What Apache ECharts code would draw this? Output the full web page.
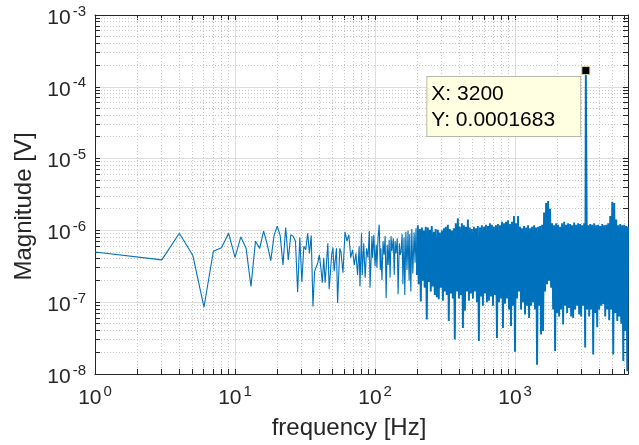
<!DOCTYPE html>
<html>
<head>
<meta charset="utf-8">
<script src="https://cdn.jsdelivr.net/npm/echarts@6/dist/echarts.min.js"></script>
<style>
html,body{margin:0;padding:0;background:#ffffff;}
#chart{width:639px;height:445px;}
</style>
</head>
<body>
<div id="chart"></div>
<script>
// ---------------- data ----------------
// each pair: [frequency in Hz, log10(magnitude in V)]
const lowSpectrum = [
  [1,-6.30],[3,-6.41],[4,-6.04],[5,-6.35],[6,-7.07],[7,-6.29],[8,-6.24],[9,-6.04],[10,-6.375],
  [11,-6.09],[12,-6.25],[13,-6.78],[14,-6.15],[15,-6.25],[16,-6.01],[17,-6.20],[18,-6.42],[19,-6.07],
  [20,-5.94],[21,-6.07],[22,-6.48],[23,-5.96],[24,-6.41],[25,-6.06],[26,-6.08],[27,-6.15],[28,-6.86],
  [29,-6.10],[30,-6.72],[31,-6.22],[32,-6.27],[33,-6.04],[34,-6.32],[35,-6.07],[36,-7.06],[37,-6.57],
  [38,-6.57],[39,-6.45],[40,-6.34],[41,-6.52],[42,-6.73],[43,-6.38],[44,-6.73],[46,-6.18],[47,-6.82],
  [49,-6.34],[50,-6.24],[51,-6.57],[53,-6.25],[54,-7.01],[56,-6.25],[57,-6.29],[59,-6.59],[61,-6.02],
  [63,-6.15],[65,-6.06],[67,-6.38],[69,-6.27],[71,-6.48],[73,-6.32],[75,-6.62],[77,-6.22],[78,-6.78],
  [80,-6.04],[81,-6.62],[83,-6.18],[85,-6.66],[87,-6.25],[89,-6.38],[91,-6.01],[92,-6.80],[95,-6.08],
  [96,-6.38],[98,-6.06]
];
const midSpectrum = [
  [100,-6.50],[102,-6.20],[103,-6.52],[105,-6.11],[107,-5.92],[109,-6.55],[110,-6.25],[112,-6.69],
  [114,-6.15],[116,-6.34],[118,-6.08],[120,-6.94],[122,-6.20],[124,-6.48],[126,-6.13],[128,-6.66],
  [130,-6.08],[132,-6.29],[135,-6.11],[137,-6.62],[139,-6.15],[141,-6.32],[144,-6.11],[146,-6.89],
  [149,-6.18],[151,-6.34],[153,-6.30],[156,-6.05],[158,-6.75],[161,-6.10],[163,-6.90],[166,-6.02],
  [169,-6.55],[172,-6.00],[175,-6.70],[177,-6.05],[180,-6.85],[183,-5.98],[186,-6.60],[190,-6.03],
  [193,-6.45],[196,-5.97],[199,-6.62]
];
const bandSpectrum = [
  [202,-5.93],[205,-6.75],[209,-5.98],[212,-6.99],[216,-5.96],[219,-6.70],[223,-6.00],[226,-6.80],
  [230,-5.95],[234,-7.24],[238,-5.96],[242,-6.72],[246,-5.99],[250,-6.85],[254,-5.94],[258,-6.78],
  [263,-6.02],[267,-6.90],[271,-5.98],[276,-6.93],[281,-5.99],[285,-6.96],[290,-6.03],[295,-6.80],
  [300,-6.00],[305,-6.98],[310,-5.97],[315,-6.85],[320,-5.95],[325,-6.90],[331,-5.92],[336,-7.26],
  [342,-5.98],[348,-6.88],[353,-6.00],[359,-6.95],[365,-5.97],[371,-7.52],[377,-5.90],[384,-6.85],
  [390,-5.83],[397,-6.95],[403,-5.95],[410,-6.90],[417,-5.90],[424,-7.36],[431,-5.93],[438,-7.12],
  [445,-5.95],[453,-6.85],[460,-5.85],[468,-6.98],[475,-5.96],[483,-6.88],[491,-5.98],[500,-6.95],
  [508,-5.95],[516,-6.85],[525,-5.97],[534,-7.00],[542,-5.94],[551,-7.54],[561,-5.96],[570,-6.92],
  [579,-5.93],[589,-7.05],[599,-5.95],[609,-6.88],[619,-5.92],[629,-7.00],[640,-5.94],[650,-6.98],
  [661,-5.90],[672,-6.92],[683,-5.92],[695,-7.05],[706,-5.95],[718,-6.90],[730,-5.93],[742,-7.50],
  [754,-5.91],[767,-7.00],[780,-5.93],[792,-6.95],[806,-5.88],[819,-7.36],[833,-5.90],[847,-7.02],
  [861,-5.88],[875,-6.95],[889,-5.86],[904,-7.10],[919,-5.91],[935,-7.33],[950,-5.88],[966,-7.05],
  [982,-5.80],[998,-7.69],[1015,-5.90],[1032,-6.95],[1049,-5.80],[1066,-6.85],[1084,-5.95],[1102,-7.10],
  [1120,-5.97],[1139,-7.00],[1158,-5.94],[1177,-7.17],[1197,-5.96],[1217,-7.05],[1237,-5.93],[1258,-7.22],
  [1278,-5.97],[1300,-7.05],[1321,-5.95],[1343,-7.00],[1366,-5.93],[1388,-7.10],[1411,-5.96],[1435,-7.87],
  [1459,-5.95],[1483,-7.05],[1507,-5.94],[1532,-7.45],[1558,-5.92],[1584,-7.40],[1610,-5.75],[1637,-6.85],
  [1664,-5.62],[1692,-6.75],[1720,-5.59],[1749,-6.70],[1778,-5.70],[1807,-6.80],[1837,-5.90],[1868,-7.10],
  [1899,-5.93],[1930,-7.68],[1962,-5.90],[1995,-7.15],[2028,-5.92],[2062,-7.20],[2096,-5.95],[2131,-7.10],
  [2166,-5.90],[2202,-7.31],[2239,-5.88],[2276,-7.05],[2314,-5.92],[2352,-7.15],[2391,-5.90],[2431,-7.08],
  [2472,-5.91],[2513,-7.20],[2554,-5.93],[2597,-7.22],[2640,-5.89],[2684,-7.10],[2728,-5.92],[2774,-7.05],
  [2820,-5.90],[2867,-7.17],[2914,-5.91],[2963,-7.20],[3012,-5.93],[3062,-7.05],[3113,-5.90],[3165,-7.63],
  [3271,-7.10],[3325,-5.93],[3380,-7.20],[3437,-5.91],[3494,-7.10],[3552,-5.92],[3611,-7.73],[3671,-5.90],
  [3732,-7.15],[3794,-5.93],[3857,-7.35],[3921,-5.92],[3986,-7.10],[4052,-5.94],[4120,-7.05],[4188,-5.91],
  [4258,-7.03],[4328,-5.93],[4400,-7.20],[4473,-5.92],[4548,-7.10],[4623,-5.90],[4700,-7.25],[4778,-5.80],
  [4858,-7.10],[4938,-5.60],[5020,-7.73],[5104,-5.62],[5189,-7.15],[5275,-5.85],[5363,-7.26],[5452,-5.93],
  [5542,-7.20],[5634,-5.91],[5728,-7.30],[5823,-5.93],[5920,-7.82],[6018,-5.92],[6118,-7.40],[6220,-5.94],
  [6323,-7.96],[6400,-5.95]
];
// the data-tip point
const peakFreq = 3200;
const peakMag = 0.0001683;
// axes
const xMin = 1, xMax = 6400;
const yMin = 1e-8, yMax = 1e-3;
const xDecades = [1, 10, 100, 1000];
const yDecades = [1e-8, 1e-7, 1e-6, 1e-5, 1e-4];
const minorMultipliers = [2, 3, 4, 5, 6, 7, 8, 9];
const xTitle = 'frequency [Hz]';
const yTitle = 'Magnitude [V]';

// ---------------- build ----------------
const FONT = '"Liberation Sans", Arial, Helvetica, sans-serif';
const INK = '#262626';
const LINE = '#0072BD';

function toPoints(arr) { return arr.map(p => [p[0], Math.pow(10, p[1])]); }
const sparsePart = toPoints(lowSpectrum.concat(midSpectrum));
const densePart = toPoints(midSpectrum.slice(-1).concat(bandSpectrum));
densePart.push([peakFreq, peakMag]);
densePart.sort((a, b) => a[0] - b[0]);

const xMinor = [];
xDecades.forEach(d => minorMultipliers.forEach(m => { if (m * d < xMax) xMinor.push(m * d); }));
const yMinor = [];
yDecades.forEach(d => minorMultipliers.forEach(m => yMinor.push(m * d)));

function powLabel(v) {
  const e = Math.log10(v);
  const r = Math.round(e);
  if (Math.abs(e - r) > 1e-6) return '';
  return '{b|10}{s|' + r + '}';
}
const rich = {
  b: { fontFamily: FONT, fontSize: 21, color: INK, padding: [6, 0, 0, 0] },
  s: { fontFamily: FONT, fontSize: 15, color: INK, padding: [0, 0, 7, 2] }
};

function crisp(v) { return Math.round(v - 0.5) + 0.5; }

const chart = echarts.init(document.getElementById('chart'), null, { renderer: 'canvas' });

const baseAxis = {
  type: 'log', logBase: 10,
  axisLine: { show: true, onZero: false, lineStyle: { color: INK, width: 1 } },
  axisTick: { show: true, inside: true, length: 5, lineStyle: { color: INK, width: 1 } },
  minorTick: { show: false },
  splitLine: { show: false },
  minorSplitLine: { show: false }
};

const option = {
  animation: false,
  backgroundColor: '#ffffff',
  grid: { left: 95, right: 11, top: 15, bottom: 69, containLabel: false },
  xAxis: [
    Object.assign({}, baseAxis, {
      position: 'bottom', min: xMin, max: xMax,
      splitLine: { show: true, lineStyle: { color: '#dedede', width: 1 } },
      axisLabel: { show: true, margin: 8, formatter: powLabel, rich: rich, showMaxLabel: false },
      name: xTitle, nameLocation: 'middle', nameGap: 42,
      nameTextStyle: { fontFamily: FONT, fontSize: 24, color: INK, padding: [0, 25, 0, 0] }
    }),
    Object.assign({}, baseAxis, {
      position: 'top', min: xMin, max: xMax,
      axisLabel: { show: false }
    })
  ],
  yAxis: [
    Object.assign({}, baseAxis, {
      position: 'left', min: yMin, max: yMax,
      splitLine: { show: true, lineStyle: { color: '#dedede', width: 1 } },
      axisLabel: { show: true, margin: 9, formatter: powLabel, rich: rich },
      name: yTitle, nameLocation: 'middle', nameGap: 58, nameRotate: 90,
      nameTextStyle: { fontFamily: FONT, fontSize: 24, color: INK, padding: [0, 24, 0, 0] }
    }),
    Object.assign({}, baseAxis, {
      position: 'right', min: yMin, max: yMax,
      axisLabel: { show: false }
    })
  ],
  series: [
    {
      type: 'custom', name: 'xMinorGrid', coordinateSystem: 'cartesian2d',
      xAxisIndex: 0, yAxisIndex: 0, silent: true, z: 1,
      data: xMinor.map(v => [v, yMin]),
      renderItem: function (params, api) {
        const v = api.value(0);
        const p0 = api.coord([v, yMin]);
        const p1 = api.coord([v, yMax]);
        const x = crisp(p0[0]);
        return { type: 'group', children: [
          { type: 'line', shape: { x1: x, y1: p0[1], x2: x, y2: p1[1] },
            style: { stroke: '#c4c4c4', lineWidth: 1, lineDash: [1, 2] } },
          { type: 'line', shape: { x1: x, y1: p0[1], x2: x, y2: p0[1] - 5 }, style: { stroke: INK, lineWidth: 1 } },
          { type: 'line', shape: { x1: x, y1: p1[1], x2: x, y2: p1[1] + 5 }, style: { stroke: INK, lineWidth: 1 } }
        ] };
      }
    },
    {
      type: 'custom', name: 'yMinorGrid', coordinateSystem: 'cartesian2d',
      xAxisIndex: 0, yAxisIndex: 0, silent: true, z: 1,
      data: yMinor.map(v => [xMin, v]),
      renderItem: function (params, api) {
        const v = api.value(1);
        const p0 = api.coord([xMin, v]);
        const p1 = api.coord([xMax, v]);
        const y = crisp(p0[1]);
        return { type: 'group', children: [
          { type: 'line', shape: { x1: p0[0], y1: y, x2: p1[0], y2: y },
            style: { stroke: '#c4c4c4', lineWidth: 1, lineDash: [1, 2] } },
          { type: 'line', shape: { x1: p0[0], y1: y, x2: p0[0] + 5, y2: y }, style: { stroke: INK, lineWidth: 1 } },
          { type: 'line', shape: { x1: p1[0], y1: y, x2: p1[0] - 5, y2: y }, style: { stroke: INK, lineWidth: 1 } }
        ] };
      }
    },
    {
      type: 'line', name: 'spectrum', xAxisIndex: 0, yAxisIndex: 0, z: 3,
      data: sparsePart, showSymbol: false, symbol: 'none', sampling: null, clip: true,
      lineStyle: { color: LINE, width: 1.1 }
    },
    {
      type: 'line', name: 'spectrum', xAxisIndex: 0, yAxisIndex: 0, z: 3,
      data: densePart, showSymbol: false, symbol: 'none', sampling: null, clip: true,
      lineStyle: { color: LINE, width: 1.9 },
      markPoint: {
        z: 10,
        symbol: 'rect', symbolSize: 8,
        animation: false,
        data: [{
          coord: [peakFreq, peakMag],
          itemStyle: { color: '#000000', borderColor: '#d6d2a6', borderWidth: 1 },
          label: {
            show: true,
            formatter: 'X: ' + peakFreq + '\nY: ' + peakMag,
            position: [-154, 11], align: 'left', verticalAlign: 'top',
            fontFamily: FONT, fontSize: 21, lineHeight: 26, color: '#000000',
            backgroundColor: '#ffffe1', borderColor: '#b9b9a8', borderWidth: 1,
            padding: [4, 25, 3, 4]
          }
        }]
      }
    }
  ]
};
chart.setOption(option);
</script>
</body>
</html>
